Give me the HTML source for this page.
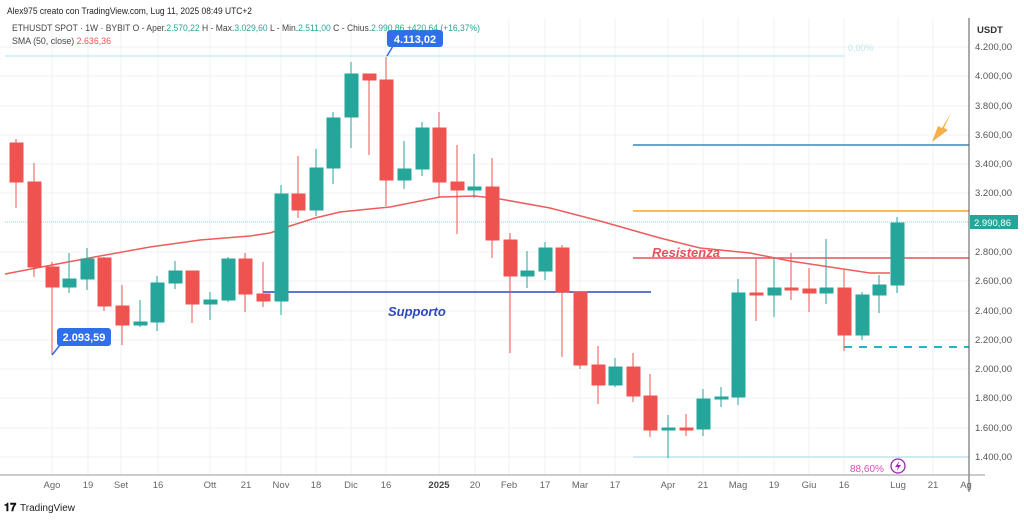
<!DOCTYPE html>
<html><head><meta charset="utf-8"><style>
body{margin:0;background:#fff;width:1024px;height:517px;overflow:hidden;font-family:"Liberation Sans",sans-serif}
</style></head><body>
<svg width="1024" height="517" xmlns="http://www.w3.org/2000/svg" font-family="Liberation Sans, sans-serif">
<rect width="1024" height="517" fill="#fff"/>
<g stroke="#eef1f5" stroke-width="1">
<line x1="0" y1="47" x2="969" y2="47"/><line x1="0" y1="76" x2="969" y2="76"/><line x1="0" y1="106" x2="969" y2="106"/><line x1="0" y1="135" x2="969" y2="135"/><line x1="0" y1="164" x2="969" y2="164"/><line x1="0" y1="193" x2="969" y2="193"/><line x1="0" y1="252" x2="969" y2="252"/><line x1="0" y1="281" x2="969" y2="281"/><line x1="0" y1="311" x2="969" y2="311"/><line x1="0" y1="340" x2="969" y2="340"/><line x1="0" y1="369" x2="969" y2="369"/><line x1="0" y1="398" x2="969" y2="398"/><line x1="0" y1="428" x2="969" y2="428"/><line x1="0" y1="457" x2="969" y2="457"/>
<line x1="52" y1="18" x2="52" y2="475"/><line x1="88" y1="18" x2="88" y2="475"/><line x1="121" y1="18" x2="121" y2="475"/><line x1="158" y1="18" x2="158" y2="475"/><line x1="210" y1="18" x2="210" y2="475"/><line x1="246" y1="18" x2="246" y2="475"/><line x1="281" y1="18" x2="281" y2="475"/><line x1="316" y1="18" x2="316" y2="475"/><line x1="351" y1="18" x2="351" y2="475"/><line x1="386" y1="18" x2="386" y2="475"/><line x1="439" y1="18" x2="439" y2="475"/><line x1="475" y1="18" x2="475" y2="475"/><line x1="509" y1="18" x2="509" y2="475"/><line x1="545" y1="18" x2="545" y2="475"/><line x1="580" y1="18" x2="580" y2="475"/><line x1="615" y1="18" x2="615" y2="475"/><line x1="668" y1="18" x2="668" y2="475"/><line x1="703" y1="18" x2="703" y2="475"/><line x1="738" y1="18" x2="738" y2="475"/><line x1="774" y1="18" x2="774" y2="475"/><line x1="809" y1="18" x2="809" y2="475"/><line x1="844" y1="18" x2="844" y2="475"/><line x1="898" y1="18" x2="898" y2="475"/><line x1="933" y1="18" x2="933" y2="475"/>
</g>
<line x1="5" y1="56" x2="845" y2="56" stroke="#b2e3ea" stroke-width="1"/>
<text x="848" y="51" font-size="9" fill="#bfe6ea">0,00%</text>
<line x1="5" y1="222" x2="969" y2="222" stroke="#b8dfe6" stroke-width="1.5" stroke-dasharray="1,1"/>
<line x1="633" y1="145" x2="969" y2="145" stroke="#3d86b8" stroke-width="1.5"/>
<line x1="633" y1="211" x2="969" y2="211" stroke="#f5a623" stroke-width="1.5"/>
<line x1="633" y1="258" x2="969" y2="258" stroke="#e8505b" stroke-width="1.5"/>
<line x1="263" y1="292" x2="651" y2="292" stroke="#2a4bb8" stroke-width="1.5"/>
<line x1="844" y1="347" x2="969" y2="347" stroke="#26b5c8" stroke-width="2" stroke-dasharray="8,7"/>
<line x1="633" y1="457" x2="969" y2="457" stroke="#bfe3ee" stroke-width="1.5"/>
<text x="850" y="472" font-size="10" fill="#d84fb5">88,60%</text>
<circle cx="898" cy="466" r="7" fill="none" stroke="#9c27b0" stroke-width="1.3"/>
<polygon points="899.5,461 895,467 898,467 896.5,471 901,465 898,465" fill="#9c27b0"/>
<text x="652" y="257" font-size="13" font-style="italic" font-weight="bold" fill="#e8505b">Resistenza</text>
<text x="388" y="316" font-size="13" font-style="italic" font-weight="bold" fill="#2a4bb8">Supporto</text>
<polygon points="951,113 944,128 948,130 932,142 938,126 942,128" fill="#f5b04a"/>
<polyline fill="none" stroke="#ee5c5c" stroke-width="1.5" points="5,274 52,265 100,256 150,247 200,240 250,236 270,233 290,226 315,218 340,212 390,207 420,201 440,197 475,196 500,199 550,208 600,221 660,238 700,248 750,253 790,261 830,267 870,273 890,273"/>
<g stroke-width="1">
<g fill="#ef5350" stroke="#ef5350">
<line x1="16" y1="139" x2="16" y2="208"/><rect x="10" y="143" width="13" height="39"/>
<line x1="34" y1="163" x2="34" y2="277"/><rect x="28" y="182" width="13" height="85"/>
<line x1="52" y1="262" x2="52" y2="355"/><rect x="46" y="267" width="13" height="20"/>
<line x1="104" y1="257" x2="104" y2="311"/><rect x="98" y="258" width="13" height="48"/>
<line x1="122" y1="285" x2="122" y2="345"/><rect x="116" y="306" width="13" height="19"/>
<line x1="192" y1="271" x2="192" y2="323"/><rect x="186" y="271" width="13" height="33"/>
<line x1="245" y1="253" x2="245" y2="312"/><rect x="239" y="259" width="13" height="35"/>
<line x1="263" y1="262" x2="263" y2="307"/><rect x="257" y="294" width="13" height="7"/>
<line x1="298" y1="156" x2="298" y2="218"/><rect x="292" y="194" width="13" height="16"/>
<line x1="369" y1="74" x2="369" y2="155"/><rect x="363" y="74" width="13" height="6"/>
<line x1="386" y1="57" x2="386" y2="206"/><rect x="380" y="80" width="13" height="100"/>
<line x1="439" y1="112" x2="439" y2="198"/><rect x="433" y="128" width="13" height="54"/>
<line x1="457" y1="145" x2="457" y2="234"/><rect x="451" y="182" width="13" height="8"/>
<line x1="492" y1="158" x2="492" y2="258"/><rect x="486" y="187" width="13" height="53"/>
<line x1="510" y1="233" x2="510" y2="353"/><rect x="504" y="240" width="13" height="36"/>
<line x1="562" y1="245" x2="562" y2="357"/><rect x="556" y="248" width="13" height="44"/>
<line x1="580" y1="292" x2="580" y2="369"/><rect x="574" y="292" width="13" height="73"/>
<line x1="598" y1="346" x2="598" y2="404"/><rect x="592" y="365" width="13" height="20"/>
<line x1="633" y1="353" x2="633" y2="402"/><rect x="627" y="367" width="13" height="29"/>
<line x1="650" y1="374" x2="650" y2="437"/><rect x="644" y="396" width="13" height="34"/>
<line x1="686" y1="414" x2="686" y2="436"/><rect x="680" y="428" width="13" height="2"/>
<line x1="756" y1="259" x2="756" y2="321"/><rect x="750" y="293" width="13" height="2"/>
<line x1="791" y1="253" x2="791" y2="300"/><rect x="785" y="288" width="13" height="2"/>
<line x1="809" y1="268" x2="809" y2="312"/><rect x="803" y="289" width="13" height="4"/>
<line x1="844" y1="270" x2="844" y2="351"/><rect x="838" y="288" width="13" height="47"/>
</g>
<g fill="#26a69a" stroke="#26a69a">
<line x1="69" y1="253" x2="69" y2="293"/><rect x="63" y="279" width="13" height="8"/>
<line x1="87" y1="248" x2="87" y2="290"/><rect x="81" y="259" width="13" height="20"/>
<line x1="140" y1="300" x2="140" y2="327"/><rect x="134" y="322" width="13" height="3"/>
<line x1="157" y1="276" x2="157" y2="331"/><rect x="151" y="283" width="13" height="39"/>
<line x1="175" y1="261" x2="175" y2="289"/><rect x="169" y="271" width="13" height="12"/>
<line x1="210" y1="292" x2="210" y2="320"/><rect x="204" y="300" width="13" height="4"/>
<line x1="228" y1="257" x2="228" y2="302"/><rect x="222" y="259" width="13" height="41"/>
<line x1="281" y1="185" x2="281" y2="315"/><rect x="275" y="194" width="13" height="107"/>
<line x1="316" y1="149" x2="316" y2="216"/><rect x="310" y="168" width="13" height="42"/>
<line x1="333" y1="112" x2="333" y2="184"/><rect x="327" y="118" width="13" height="50"/>
<line x1="351" y1="62" x2="351" y2="148"/><rect x="345" y="74" width="13" height="43"/>
<line x1="404" y1="141" x2="404" y2="189"/><rect x="398" y="169" width="13" height="11"/>
<line x1="422" y1="122" x2="422" y2="176"/><rect x="416" y="128" width="13" height="41"/>
<line x1="474" y1="154" x2="474" y2="198"/><rect x="468" y="187" width="13" height="3"/>
<line x1="527" y1="251" x2="527" y2="288"/><rect x="521" y="271" width="13" height="5"/>
<line x1="545" y1="242" x2="545" y2="280"/><rect x="539" y="248" width="13" height="23"/>
<line x1="615" y1="358" x2="615" y2="387"/><rect x="609" y="367" width="13" height="18"/>
<line x1="668" y1="415" x2="668" y2="458"/><rect x="662" y="428" width="13" height="2"/>
<line x1="703" y1="389" x2="703" y2="436"/><rect x="697" y="399" width="13" height="30"/>
<line x1="721" y1="387" x2="721" y2="407"/><rect x="715" y="397" width="13" height="2"/>
<line x1="738" y1="279" x2="738" y2="405"/><rect x="732" y="293" width="13" height="104"/>
<line x1="774" y1="258" x2="774" y2="317"/><rect x="768" y="288" width="13" height="7"/>
<line x1="826" y1="239" x2="826" y2="304"/><rect x="820" y="288" width="13" height="5"/>
<line x1="862" y1="292" x2="862" y2="340"/><rect x="856" y="295" width="13" height="40"/>
<line x1="879" y1="275" x2="879" y2="313"/><rect x="873" y="285" width="13" height="10"/>
<line x1="897" y1="217" x2="897" y2="293"/><rect x="891" y="223" width="13" height="62"/>
</g>
</g>
<line x1="387" y1="56" x2="393" y2="46" stroke="#2f6fea" stroke-width="1.5"/>
<rect x="387" y="30" width="56" height="17" rx="3" fill="#2f6fea"/>
<text x="415" y="43" font-size="11" font-weight="bold" fill="#fff" text-anchor="middle">4.113,02</text>
<line x1="52" y1="355" x2="60" y2="345" stroke="#2f6fea" stroke-width="1.5"/>
<rect x="57" y="328" width="54" height="18" rx="3" fill="#2f6fea"/>
<text x="84" y="341" font-size="11" font-weight="bold" fill="#fff" text-anchor="middle">2.093,59</text>
<line x1="969" y1="18" x2="969" y2="492" stroke="#555" stroke-width="1"/>
<line x1="0" y1="475" x2="985" y2="475" stroke="#999" stroke-width="1"/>
<g font-size="9.5" fill="#555">
<text x="977" y="33" font-weight="bold" fill="#333">USDT</text>
<text x="975" y="50">4.200,00</text><text x="975" y="79">4.000,00</text><text x="975" y="109">3.800,00</text><text x="975" y="138">3.600,00</text><text x="975" y="167">3.400,00</text><text x="975" y="196">3.200,00</text><text x="975" y="255">2.800,00</text><text x="975" y="284">2.600,00</text><text x="975" y="314">2.400,00</text><text x="975" y="343">2.200,00</text><text x="975" y="372">2.000,00</text><text x="975" y="401">1.800,00</text><text x="975" y="431">1.600,00</text><text x="975" y="460">1.400,00</text>
</g>
<rect x="970" y="215" width="48" height="14" fill="#26a69a"/>
<text x="974" y="226" font-size="9.5" fill="#fff">2.990,86</text>
<g font-size="9.5" fill="#666" text-anchor="middle">
<text x="52" y="488">Ago</text><text x="88" y="488">19</text><text x="121" y="488">Set</text><text x="158" y="488">16</text><text x="210" y="488">Ott</text><text x="246" y="488">21</text><text x="281" y="488">Nov</text><text x="316" y="488">18</text><text x="351" y="488">Dic</text><text x="386" y="488">16</text><text x="439" y="488" font-weight="bold" fill="#444">2025</text><text x="475" y="488">20</text><text x="509" y="488">Feb</text><text x="545" y="488">17</text><text x="580" y="488">Mar</text><text x="615" y="488">17</text><text x="668" y="488">Apr</text><text x="703" y="488">21</text><text x="738" y="488">Mag</text><text x="774" y="488">19</text><text x="809" y="488">Giu</text><text x="844" y="488">16</text><text x="898" y="488">Lug</text><text x="933" y="488">21</text><text x="966" y="488">Ag</text>
</g>
<text x="7" y="14" font-size="9.5" fill="#222" textLength="245" lengthAdjust="spacingAndGlyphs">Alex975 creato con TradingView.com, Lug 11, 2025 08:49 UTC+2</text>
<text x="12" y="31" font-size="9" fill="#444" textLength="468" lengthAdjust="spacingAndGlyphs">ETHUSDT SPOT · 1W · BYBIT  O - Aper.<tspan fill="#26a69a">2.570,22</tspan>  H - Max.<tspan fill="#26a69a">3.029,60</tspan>  L - Min.<tspan fill="#26a69a">2.511,00</tspan>  C - Chius.<tspan fill="#26a69a">2.990,86  +420,64 (+16,37%)</tspan></text>
<text x="12" y="44" font-size="9" fill="#444" textLength="99" lengthAdjust="spacingAndGlyphs">SMA (50, close)  <tspan fill="#ef5350">2.636,36</tspan></text>
<text x="4" y="511" font-size="11" font-weight="bold" fill="#111">𝟏𝟕</text>
<text x="20" y="511" font-size="10" fill="#222">TradingView</text>
</svg>
</body></html>
